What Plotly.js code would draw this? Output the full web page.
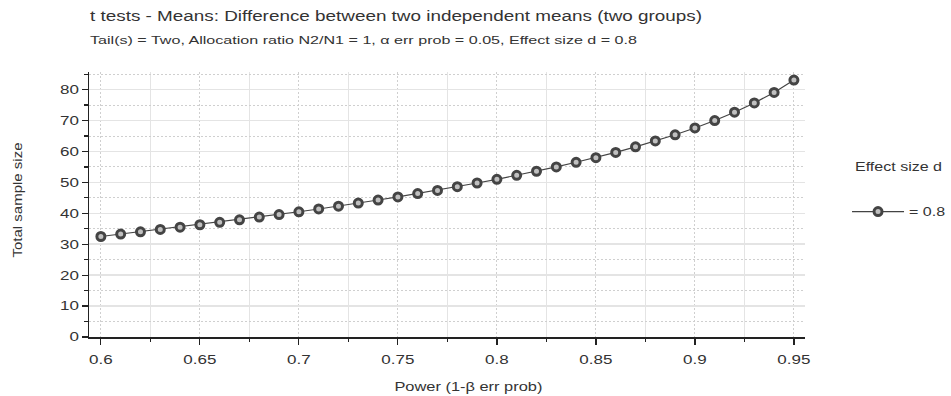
<!DOCTYPE html>
<html>
<head>
<meta charset="utf-8">
<script src="https://cdn.plot.ly/plotly-3.0.1.min.js"></script>
<style>html,body{margin:0;padding:0;background:#fff;}#chart{width:951px;height:396px;}</style>
</head>
<body>
<div id="chart"></div>
<script>
// Power (1-β err prob)
const power = [0.60,0.61,0.62,0.63,0.64,0.65,0.66,0.67,0.68,0.69,0.70,0.71,0.72,0.73,0.74,0.75,0.76,0.77,0.78,0.79,0.80,0.81,0.82,0.83,0.84,0.85,0.86,0.87,0.88,0.89,0.90,0.91,0.92,0.93,0.94,0.95];
// Total sample size, effect size d = 0.8
const totalN = [32.5,33.3,34.0,34.8,35.5,36.3,37.1,37.9,38.8,39.6,40.5,41.4,42.3,43.3,44.3,45.3,46.4,47.4,48.6,49.8,51.0,52.3,53.6,55.0,56.5,58.0,59.7,61.5,63.4,65.4,67.6,70.0,72.7,75.7,79.1,83.1];
const seriesName = "= 0.8";
const legendTitle = "Effect size d";
const titleText = "t tests - Means: Difference between two independent means (two groups)";
const subtitleText = "Tail(s) = Two, Allocation ratio N2/N1 = 1, α err prob = 0.05, Effect size d = 0.8";
const xTitle = "Power (1-β err prob)";
const yTitle = "Total sample size";

const font = "Liberation Sans, Arial, sans-serif";
const txt = "#333";
const trace = {
  x: power, y: totalN, name: seriesName, type: "scatter", mode: "lines+markers",
  line: {color: "#444", width: 1.2},
  marker: {symbol: "circle", size: 8, color: "#c0c0c0", line: {color: "#444", width: 3}},
  showlegend: true
};
const ann = (text, x, y, xanchor, size, extra) => Object.assign({
  text: text, xref: "paper", yref: "paper", x: x, y: y, xanchor: xanchor, yanchor: "middle",
  align: xanchor === "left" ? "left" : "center", showarrow: false,
  font: {family: font, size: size, color: txt}
}, extra || {});
const layout = {
  width: 951, height: 396,
  margin: {l: 89, r: 146, t: 72, b: 59, autoexpand: false},
  paper_bgcolor: "#fff", plot_bgcolor: "#fff",
  font: {family: font, size: 12.5, color: txt},
  showlegend: true,
  legend: {x: 1.0587, xanchor: "left", y: 0.472, yanchor: "middle", font: {family: font, size: 12.5, color: txt}, bgcolor: "rgba(0,0,0,0)", itemwidth: 52},
  annotations: [
    ann(titleText, -0.0015, 1.2113, "left", 14),
    ann(subtitleText, -0.0015, 1.1208, "left", 11.5),
    ann(legendTitle, 1.0670, 0.6415, "left", 12.5),
    ann(xTitle, 0.5307, -0.1887, "center", 12.5),
    ann(yTitle, -0.0992, 0.517, "center", 12.5, {textangle: -90})
  ],
  xaxis: {
    range: [0.594, 0.9556], tickmode: "linear", tick0: 0.6, dtick: 0.05,
    showline: true, linecolor: "#222", linewidth: 1.5, mirror: false,
    ticks: "outside", ticklen: 6, tickwidth: 1.2, tickcolor: "#222", ticklabelstandoff: 4,
    showgrid: true, gridcolor: "#cfcfcf", griddash: "2px,2px", gridwidth: 1,
    zeroline: false, automargin: false,
    minor: {tick0: 0.625, dtick: 0.05, ticks: "outside", ticklen: 3.5, tickwidth: 1.2, tickcolor: "#222", showgrid: true, gridcolor: "#e4e4e4", griddash: "solid", gridwidth: 1.5},
    tickfont: {family: font, size: 12.5, color: txt}
  },
  yaxis: {
    range: [0, 85.7], tickmode: "linear", tick0: 0, dtick: 10,
    showline: true, linecolor: "#222", linewidth: 1.5,
    ticks: "outside", ticklen: 6, tickwidth: 1.2, tickcolor: "#222",
    showgrid: true, gridcolor: "#e4e4e4", griddash: "solid", gridwidth: 1.5,
    zeroline: false, automargin: false,
    minor: {tick0: 5, dtick: 10, ticks: "outside", ticklen: 3.5, tickwidth: 1.2, tickcolor: "#222", showgrid: true, gridcolor: "#cfcfcf", griddash: "2px,2px", gridwidth: 1},
    tickfont: {family: font, size: 12.5, color: txt}
  }
};

// The reference text is rendered horizontally widened; widen the real SVG text to match.
function widen(el, target) {
  if (!el) return;
  const L = el.getComputedTextLength();
  if (L > 0) {
    el.setAttribute("textLength", target.toFixed(2));
    el.setAttribute("lengthAdjust", "spacingAndGlyphs");
  }
}
function widenBy(el, k) { if (el) widen(el, el.getComputedTextLength() * k); }

Plotly.newPlot("chart", [trace], layout, {displayModeBar: false, staticPlot: true}).then(gd => {
  const q = s => gd.querySelector(s);
  const annTargets = [612, 547, 87, 148, 115];
  annTargets.forEach((w, i) => widen(q('.annotation[data-index="' + i + '"] text'), w));
  gd.querySelectorAll(".xtick text, .ytick text").forEach(t => widenBy(t, 1.36));
  gd.querySelectorAll(".legendtext").forEach(t => widen(t, 36));
  // widened legend text must not be clipped by the legend's original box
  gd.querySelectorAll(".legend [clip-path]").forEach(el => el.removeAttribute("clip-path"));
});
</script>
</body>
</html>
